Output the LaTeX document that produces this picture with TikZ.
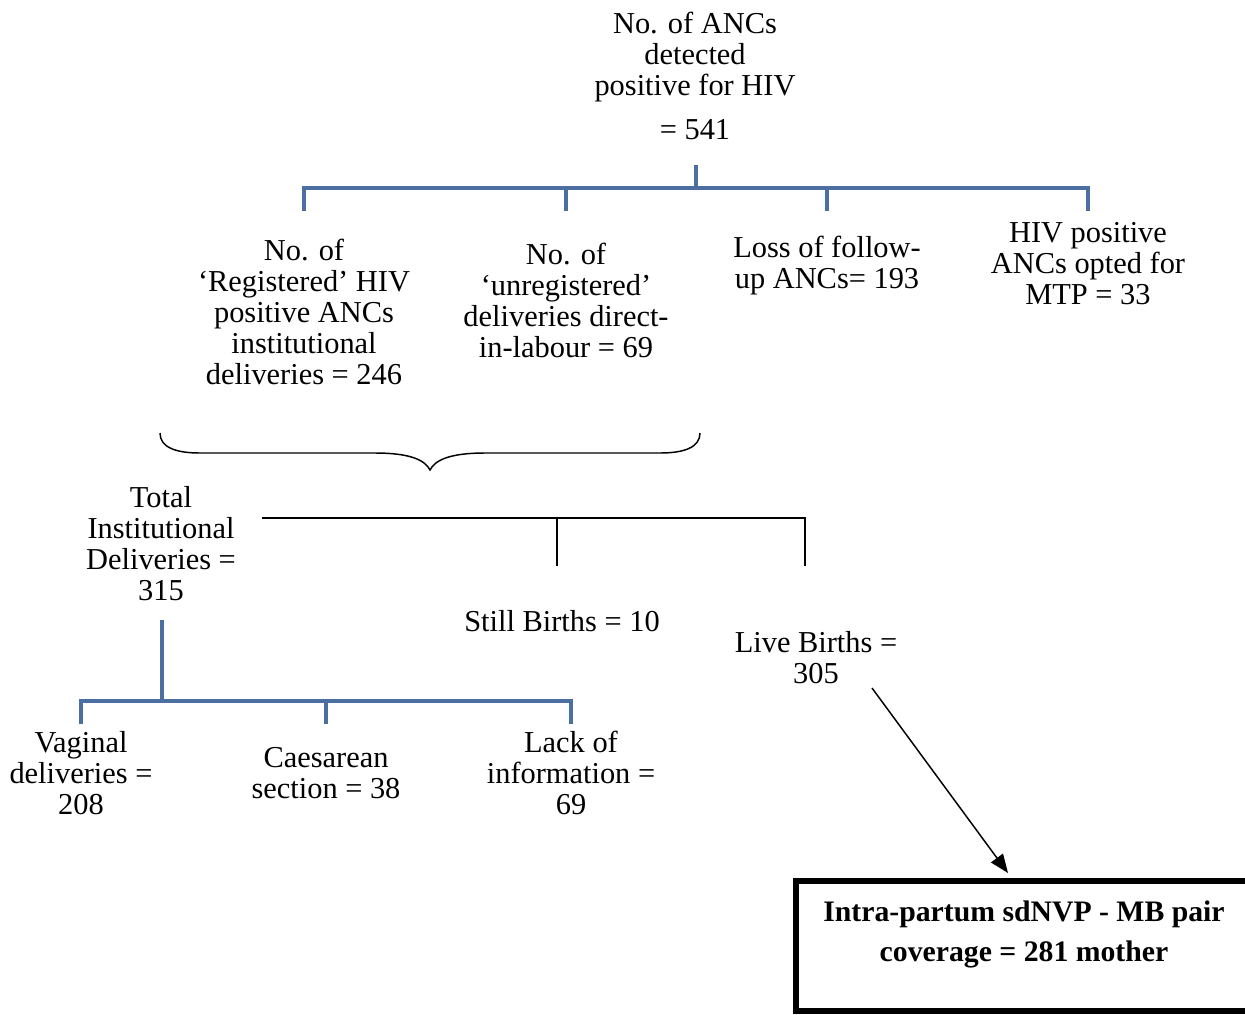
\documentclass[tikz,border=0pt]{standalone}
\usepackage{fontspec}
\setmainfont{Liberation Serif}
\usetikzlibrary{arrows.meta}
\definecolor{treeblue}{RGB}{74,111,160}
\tikzset{
  lbl/.style={align=center,inner sep=0pt,font=\fontsize{22.8}{23.25}\selectfont},
  bluetree/.style={draw=treeblue,line width=2.4pt},
  blacktree/.style={draw=black,line width=1.1pt},
}
\begin{document}
\begin{tikzpicture}[x=0.75pt,y=-0.75pt]
\useasboundingbox (0,0) rectangle (1245,1014);
% top
\node[lbl] (top) at (695,57) {No. of ANCs\\detected\\positive for HIV};
\node[lbl] (tot) at (695,130) {= 541};
% level 1
\node[lbl] (reg) at (304,312) {No. of\\‘Registered’ HIV\\positive ANCs\\institutional\\deliveries = 246};
\node[lbl] (unreg) at (566,300) {No. of\\‘unregistered’\\deliveries direct-\\in-labour = 69};
\node[lbl] (loss) at (827,266) {Loss of follow-\\up ANCs= 193};
\node[lbl] (mtp) at (1088,264) {HIV positive\\ANCs opted for\\MTP = 33};
% tree 1
\coordinate (t0) at (696,165);
\coordinate (t1) at (696,188);
\coordinate (ra) at (304,188); \coordinate (rb) at (304,211);
\coordinate (ua) at (566,188); \coordinate (ub) at (566,211);
\coordinate (la) at (827,188); \coordinate (lb) at (827,211);
\coordinate (ma) at (1088,188); \coordinate (mb) at (1088,211);
\draw[bluetree] (t0) -- (t1);
\draw[bluetree] (rb) -- (ra) -- (ma) -- (mb);
\draw[bluetree] (ua) -- (ub);
\draw[bluetree] (la) -- (lb);
% brace
\coordinate (bl) at (160,433);
\coordinate (br) at (700,433);
\coordinate (bt) at (430,470);
\draw[line width=1.1pt] (bl) .. controls (160,447) and (175,453) .. (200,453)
  -- (375,453) .. controls (410,453) and (425,460) .. (bt)
  .. controls (435,460) and (450,453) .. (485,453)
  -- (660,453) .. controls (685,453) and (700,447) .. (br);
% total institutional
\node[lbl] (inst) at (161,544) {Total\\Institutional\\Deliveries =\\315};
\coordinate (h0) at (262,518);
\coordinate (h1) at (557,518); \coordinate (h1b) at (557,566);
\coordinate (h2) at (805,518); \coordinate (h2b) at (805,566);
\draw[blacktree] (h0) -- (h2) -- (h2b);
\draw[blacktree] (h1) -- (h1b);
\node[lbl] (still) at (562,621) {Still Births = 10};
\node[lbl] (live) at (816,658) {Live Births =\\305};
% tree 2
\coordinate (v0) at (162,620);
\coordinate (v1) at (162,701);
\coordinate (va) at (81,701); \coordinate (vb) at (81,724);
\coordinate (ca) at (326,701); \coordinate (cb) at (326,724);
\coordinate (lka) at (571,701); \coordinate (lkb) at (571,724);
\draw[bluetree] (v0) -- (v1);
\draw[bluetree] (vb) -- (va) -- (lka) -- (lkb);
\draw[bluetree] (ca) -- (cb);
\node[lbl] (vag) at (81,773) {Vaginal\\deliveries =\\208};
\node[lbl] (caes) at (326,773) {Caesarean\\section = 38};
\node[lbl] (lack) at (571,773) {Lack of\\information =\\69};
% box
\draw[line width=3.8pt] (796,881) rectangle (1260,1011);
\node[lbl,font=\bfseries\fontsize{22.3}{30}\selectfont] (cov) at (1024,934) {Intra-partum sdNVP - MB pair\\coverage = 281 mother};
\coordinate (as) at (872,688);
\coordinate (ae) at (1008,873);
\draw[line width=1.1pt,-{Triangle[length=14pt,width=11pt]}] (as) -- (ae);
\end{tikzpicture}
\end{document}
